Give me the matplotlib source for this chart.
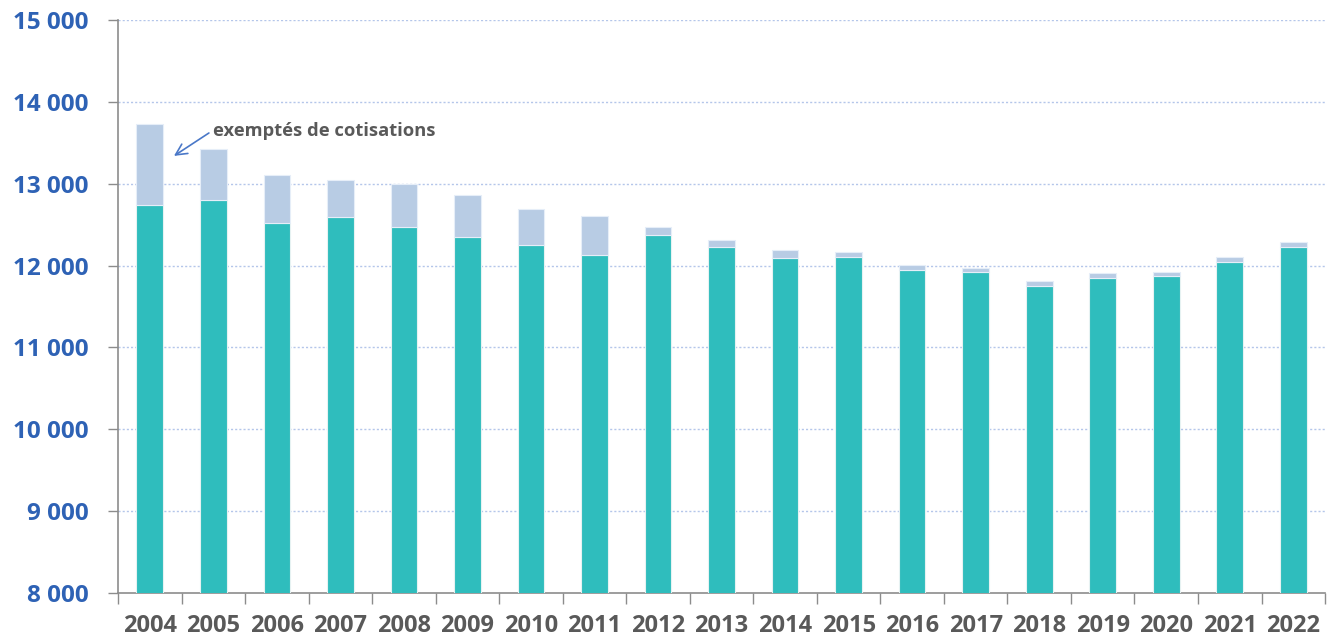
import matplotlib
matplotlib.use("Agg")
import matplotlib.pyplot as plt
import numpy as np

years = [str(y) for y in range(2004, 2023)]
cotisants = [12740, 12801, 12520, 12593, 12471, 12349, 12248, 12126, 12370, 12227,
             12089, 12109, 11946, 11925, 11747, 11845, 11869, 12047, 12231]
totals = [13730, 13424, 13107, 13045, 12997, 12862, 12695, 12609, 12468, 12309,
          12187, 12168, 12007, 11967, 11808, 11906, 11925, 12105, 12288]
exemptes = [t - c for t, c in zip(totals, cotisants)]
yticks = [8000, 9000, 10000, 11000, 12000, 13000, 14000, 15000]
ytick_labels = ["8 000", "9 000", "10 000", "11 000", "12 000", "13 000", "14 000", "15 000"]
annotation = "exemptés de cotisations"

plt.rcParams['font.family'] = ['Open Sans', 'DejaVu Sans']

fig = plt.figure(figsize=(13.34, 6.4), dpi=100)
ax = fig.add_axes([0.0885, 0.0734, 0.9048, 0.8953])

x = np.arange(len(years))
teal = "#2FBDBD"
light = "#B8CCE4"
ax.bar(x, cotisants, width=0.42, color=teal, edgecolor="#E6F2F2", linewidth=0.8, zorder=3)
ax.bar(x, exemptes, bottom=cotisants, width=0.42, color=light, edgecolor="#E6EEF8",
       linewidth=0.8, zorder=3)

ax.set_xlim(-0.5, len(years) - 0.5)
ax.set_ylim(8000, 15000)

ax.set_yticks(yticks)
ax.set_yticklabels(ytick_labels, color="#2E62B5", fontsize=17.5, fontweight="bold")
ax.tick_params(axis='y', length=7, color="#8C8C8C", width=1, pad=14)

ax.set_xticks(x)
ax.set_xticklabels(years, color="#595959", fontsize=17, fontweight="bold")
ax.tick_params(axis='x', which='major', length=0, pad=15)
ax.set_xticks(np.arange(-0.5, len(years) + 0.5, 1), minor=True)
ax.tick_params(axis='x', which='minor', length=8, color="#8C8C8C", width=1)

for yv in yticks[1:]:
    ax.axhline(yv, color="#B4C6EA", linestyle=(0, (1.5, 1.5)), linewidth=1, zorder=1)

for s in ["top", "right"]:
    ax.spines[s].set_visible(False)
ax.spines["left"].set_color("#8C8C8C")
ax.spines["bottom"].set_color("#8C8C8C")
ax.spines["left"].set_linewidth(1.2)
ax.spines["bottom"].set_linewidth(1.2)

ax.text(1.0, 13640, annotation, color="#595959", fontsize=13.2, fontweight="bold",
        ha="left", va="center")
ax.annotate("", xy=(0.38, 13340), xytext=(0.93, 13620),
            arrowprops=dict(arrowstyle="->", color="#4A78C8", lw=1.2,
                            shrinkA=0, shrinkB=0, mutation_scale=20))

fig.savefig("out.png", dpi=100)
